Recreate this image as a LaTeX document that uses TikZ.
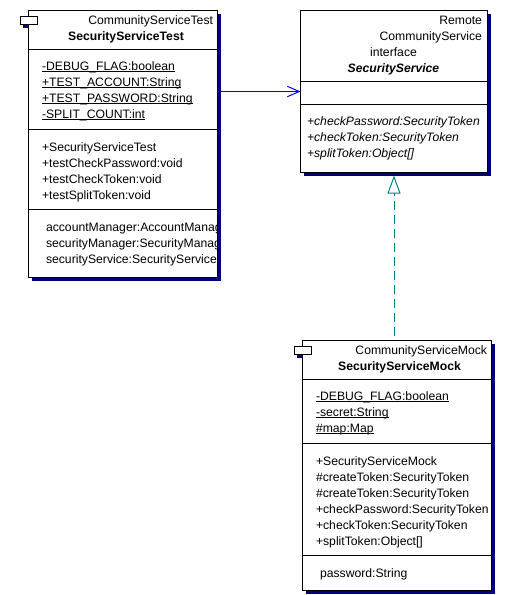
\documentclass[tikz,border=0pt]{standalone}
\usepackage{fontspec}
\setmainfont{Liberation Sans}
\usetikzlibrary{arrows.meta,shadows}
\definecolor{shadowc}{RGB}{0,0,128}
\definecolor{linkblue}{RGB}{0,0,255}
\definecolor{tealc}{RGB}{0,128,128}
\newcommand\uf{\fontsize{12.2}{14}\selectfont}
\newcommand\ulx[1]{\setbox0\hbox{#1}\rlap{\rule[-2pt]{\wd0}{0.9pt}}\box0}
\begin{document}
\begin{tikzpicture}[x=1pt,y=-1pt,
  cls/.style={draw=black,line width=1pt,fill=white,anchor=north west,inner sep=0pt,outer sep=0pt,
    general shadow={fill=shadowc,shadow xshift=3pt,shadow yshift=-3pt}},
  tabbox/.style={draw=black,line width=1pt,fill=white,anchor=north west,inner sep=0pt,outer sep=0pt,
    minimum width=17pt,minimum height=8pt},
  tabshadow/.style={fill=shadowc},
  sepline/.style={draw=black,line width=1pt},
  lt/.style={inner sep=0pt,outer sep=0pt,anchor=base west,font=\uf},
  rt/.style={inner sep=0pt,outer sep=0pt,anchor=base east,font=\uf},
  ct/.style={inner sep=0pt,outer sep=0pt,anchor=base,font=\uf},
  bt/.style={inner sep=0pt,outer sep=0pt,anchor=base,font=\uf\bfseries},
  bit/.style={inner sep=0pt,outer sep=0pt,anchor=base,font=\uf\bfseries\itshape},
  itx/.style={inner sep=0pt,outer sep=0pt,anchor=base west,font=\uf\itshape},
  assoc/.style={draw=linkblue,line width=1pt,shorten <=3pt,-{Straight Barb[length=12pt,width=10.5pt]}},
  realize/.style={draw=tealc,line width=1pt,dash pattern=on 9pt off 5pt,dash phase=9pt,shorten >=3pt,
    -{Triangle[open,length=18pt,width=13pt,fill=white]}}
]
\path[use as bounding box,fill=white] (0,0) rectangle (505,595);

% tab shadows
\fill[tabshadow] (23,19.5) rectangle (40.5,27.5);
\fill[tabshadow] (297,349.5) rectangle (314.5,357.5);

% boxes
\node[cls,minimum width=189pt,minimum height=267pt] (b1) at (28.5,10.5) {};
\node[cls,minimum width=187pt,minimum height=162pt] (b2) at (300.5,10.5) {};
\node[cls,minimum width=189pt,minimum height=250pt] (b3) at (302.5,340.5) {};

% tabs
\node[tabbox] (tab1) at (20.5,16.5) {};
\node[tabbox] (tab3) at (294.5,346.5) {};

% connectors
\draw[assoc] (b1.east |- b2.west) -- (b2.west);
\draw[realize] (b2.south |- b3.north) -- (b2.south);

% ---- SecurityServiceTest
\node[rt] (b1pkg) at (213,24) {CommunityServiceTest};
\node[bt] (b1name) at (126,40) {SecurityServiceTest};
\draw[sepline] (28.5,49.5) -- (217.5,49.5);
\node[lt] (b1a1) at (42,70) {\ulx{-DEBUG\_FLAG:boolean}};
\node[lt] (b1a2) at (42,86) {\ulx{+TEST\_ACCOUNT:String}};
\node[lt] (b1a3) at (42,102) {\ulx{+TEST\_PASSWORD:String}};
\node[lt] (b1a4) at (42,118) {\ulx{-SPLIT\_COUNT:int}};
\draw[sepline] (28.5,129.5) -- (217.5,129.5);
\node[lt] (b1m1) at (42,151) {+SecurityServiceTest};
\node[lt] (b1m2) at (42,167) {+testCheckPassword:void};
\node[lt] (b1m3) at (42,183) {+testCheckToken:void};
\node[lt] (b1m4) at (42,199) {+testSplitToken:void};
\draw[sepline] (28.5,209.5) -- (217.5,209.5);
\begin{scope}
\clip (28.5,10.5) rectangle (217,277.5);
\node[lt] (b1f1) at (46,231) {accountManager:AccountManag};
\node[lt] (b1f2) at (46,247) {securityManager:SecurityManag};
\node[lt] (b1f3) at (46,263) {securityService:SecurityService};
\end{scope}

% ---- SecurityService
\node[rt] (b2s1) at (482,24) {Remote};
\node[rt] (b2s2) at (482,40) {CommunityService};
\node[ct] (b2s3) at (393.5,56) {interface};
\node[bit] (b2name) at (393.5,72) {SecurityService};
\draw[sepline] (300.5,81.5) -- (487.5,81.5);
\draw[sepline] (300.5,104.5) -- (487.5,104.5);
\node[itx] (b2m1) at (307,125) {+checkPassword:SecurityToken};
\node[itx] (b2m2) at (307,141) {+checkToken:SecurityToken};
\node[itx] (b2m3) at (307,157) {+splitToken:Object[]};

% ---- SecurityServiceMock
\node[rt] (b3pkg) at (487,354) {CommunityServiceMock};
\node[bt] (b3name) at (399.5,370) {SecurityServiceMock};
\draw[sepline] (302.5,379.5) -- (491.5,379.5);
\node[lt] (b3a1) at (316,400) {\ulx{-DEBUG\_FLAG:boolean}};
\node[lt] (b3a2) at (316,416) {\ulx{-secret:String}};
\node[lt] (b3a3) at (316,432) {\ulx{\#map:Map}};
\draw[sepline] (302.5,443.5) -- (491.5,443.5);
\begin{scope}
\clip (302.5,340.5) rectangle (491,590.5);
\node[lt] (b3m1) at (316,465) {+SecurityServiceMock};
\node[lt] (b3m2) at (316,481) {\#createToken:SecurityToken};
\node[lt] (b3m3) at (316,497) {\#createToken:SecurityToken};
\node[lt] (b3m4) at (316,513) {+checkPassword:SecurityToken};
\node[lt] (b3m5) at (316,529) {+checkToken:SecurityToken};
\node[lt] (b3m6) at (316,545) {+splitToken:Object[]};
\end{scope}
\draw[sepline] (302.5,555.5) -- (491.5,555.5);
\node[lt] (b3f1) at (320,577) {password:String};
\end{tikzpicture}
\end{document}
